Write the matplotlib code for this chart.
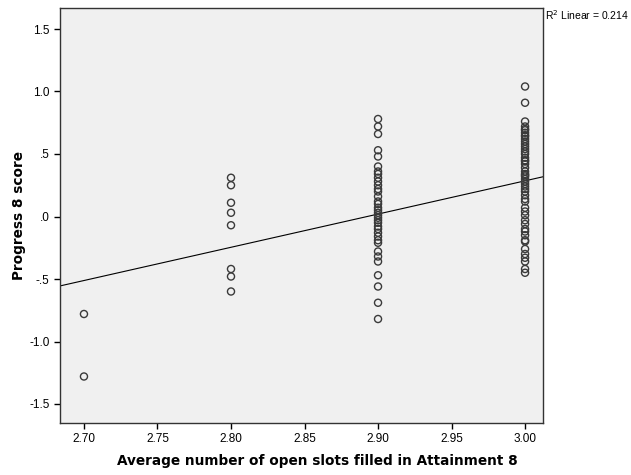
import numpy as np
import matplotlib
matplotlib.use("Agg")
import matplotlib.pyplot as plt

plt.rcParams['font.family'] = ['Liberation Sans', 'DejaVu Sans']

# Progress 8 scores grouped by average number of open slots filled
slots = [2.70, 2.80, 2.90, 3.00]
p8_270 = [-0.78, -1.28]
p8_280 = [0.31, 0.25, 0.11, 0.03, -0.07, -0.42, -0.48, -0.60]
p8_290 = [0.78, 0.72, 0.66, 0.53, 0.48, 0.40, 0.36, 0.34, 0.31, 0.28, 0.25, 0.22,
          0.20, 0.16, 0.12, 0.10, 0.07, 0.05, 0.03, 0.01, -0.01, -0.03, -0.05,
          -0.08, -0.10, -0.13, -0.16, -0.19, -0.21, -0.28, -0.32, -0.36, -0.47,
          -0.56, -0.69, -0.82]
p8_300 = [1.04, 0.91, 0.76, 0.72, 0.70, 0.69, 0.67, 0.65, 0.64, 0.62, 0.60, 0.58,
          0.56, 0.54, 0.52, 0.50, 0.47, 0.45, 0.44, 0.42, 0.39, 0.36, 0.34, 0.33,
          0.32, 0.30, 0.28, 0.26, 0.24, 0.22, 0.20, 0.17, 0.14, 0.12, 0.07, 0.04,
          0.01, -0.03, -0.06, -0.10, -0.12, -0.15, -0.19, -0.20, -0.26, -0.30,
          -0.33, -0.36, -0.42, -0.45]
r2_label = "0.214"

xticks = [2.70, 2.75, 2.80, 2.85, 2.90, 2.95, 3.00]
xticklabels = ["2.70", "2.75", "2.80", "2.85", "2.90", "2.95", "3.00"]
yticks = [1.5, 1.0, 0.5, 0.0, -0.5, -1.0, -1.5]
yticklabels = ["1.5", "1.0", ".5", ".0", "-.5", "-1.0", "-1.5"]

groups = [p8_270, p8_280, p8_290, p8_300]
x = np.concatenate([[s] * len(g) for s, g in zip(slots, groups)])
y = np.concatenate(groups)

fig = plt.figure(figsize=(6.31, 4.75), dpi=100)
ax = fig.add_axes([60 / 631, 1 - 423 / 475, (543 - 60) / 631, (423 - 8) / 475])
ax.set_facecolor('#f0f0f0')

xmin, xmax = 2.6837, 3.0122
ax.set_xlim(xmin, xmax)
ax.set_ylim(-1.652, 1.668)

ax.scatter(x, y, s=26, facecolors='none', edgecolors='#3a3a3a', linewidths=1.0, zorder=3)

b, a = np.polyfit(x, y, 1)
xl = np.array([xmin, xmax])
ax.plot(xl, a + b * xl, color='black', linewidth=0.8, zorder=2)

ax.set_xticks(xticks)
ax.set_xticklabels(xticklabels)
ax.set_yticks(yticks)
ax.set_yticklabels(yticklabels)
ax.tick_params(axis='both', direction='out', length=4, width=1, labelsize=8.5, colors='black')
for sp in ax.spines.values():
    sp.set_linewidth(1.0)
    sp.set_color('#333333')

ax.set_xlabel("Average number of open slots filled in Attainment 8", fontsize=9.85,
              fontweight='bold', family='DejaVu Sans', labelpad=6, x=0.533)
ax.set_ylabel("Progress 8 score", fontsize=9.85, fontweight='bold',
              family='DejaVu Sans', labelpad=2)

fig.text(545 / 631, 1 - 15 / 475, "R$^2$ Linear = " + r2_label, fontsize=7.5,
         va='center', ha='left')

fig.savefig("out.png", dpi=100)
